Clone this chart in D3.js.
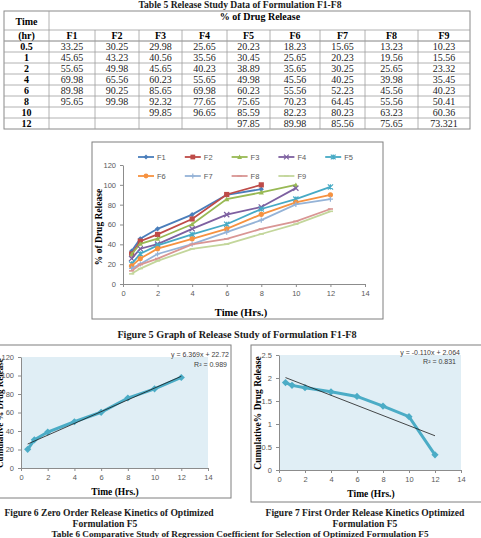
<!DOCTYPE html>
<html>
<head>
<meta charset="utf-8">
<script src="https://cdn.jsdelivr.net/npm/d3@7"></script>
<style>
  body { margin: 0; background: #fff; }
  svg { display: block; }
  .serif { font-family: 'Liberation Serif', 'DejaVu Serif', serif; }
  .tick text { font-family: 'Liberation Sans', Arial, sans-serif; font-size: 7.5px; fill: #595959; }
  .tick line, .domain { stroke: #8c8c8c; }
</style>
</head>
<body>
<svg id="page" width="481" height="538"></svg>
<script>
const times = [0.5, 1, 2, 4, 6, 8, 10, 12]
const formulations = ['F1', 'F2', 'F3', 'F4', 'F5', 'F6', 'F7', 'F8', 'F9']
const f1 = [33.25, 45.65, 55.65, 69.98, 89.98, 95.65, null, null]
const f2 = [30.25, 43.23, 49.98, 65.56, 90.25, 99.98, null, null]
const f3 = [29.98, 40.56, 45.65, 60.23, 85.65, 92.32, 99.85, null]
const f4 = [25.65, 35.56, 40.23, 55.65, 69.98, 77.65, 96.65, null]
const f5 = [20.23, 30.45, 38.89, 49.98, 60.23, 75.65, 85.59, 97.85]
const f6 = [18.23, 25.65, 35.65, 45.56, 55.56, 70.23, 82.23, 89.98]
const f7 = [15.65, 20.23, 30.25, 40.25, 52.23, 64.45, 80.23, 85.56]
const f8 = [13.23, 19.56, 25.65, 39.98, 45.56, 55.56, 63.23, 75.65]
const f9 = [10.23, 15.56, 23.32, 35.45, 40.23, 50.41, 60.36, 73.321]
const series = [f1, f2, f3, f4, f5, f6, f7, f8, f9]

// first order: log cumulative % drug remaining for F5
const logRemaining = [1.90, 1.84, 1.79, 1.70, 1.60, 1.39, 1.16, 0.33]
// trend lines as printed on the figures
const zeroFit = { slope: 6.369, intercept: 22.72, label: 'y = 6.369x + 22.72', r2: 'R² = 0.989' }
const firstFit = { slope: -0.110, intercept: 2.064, label: 'y = -0.110x + 2.064', r2: 'R² = 0.831' }

const xTicks = [0, 2, 4, 6, 8, 10, 12, 14]
const pctTicks = [0, 20, 40, 60, 80, 100, 120]
const logTicks = [0, 0.5, 1, 1.5, 2, 2.5]

const colors = ['#4a7ebb', '#be4b48', '#98b954', '#7d60a0', '#46aac5', '#f69240', '#95b3d7', '#d99694', '#c3d69b']
const markers = ['diamond', 'square', 'triangle', 'x', 'star', 'circle', 'plus', 'dash', 'dash']

const svg = d3.select('#page')
svg.append('rect').attr('width', 481).attr('height', 538).attr('fill', '#fff')

// ---------- captions ----------
function caption(txt, x, y, size) {
    svg.append('text').attr('class', 'serif')
        .attr('x', x).attr('y', y)
        .attr('text-anchor', 'middle')
        .style('font-size', size + 'px').style('font-weight', 'bold')
        .style('fill', '#1a1a1a')
        .text(txt)
}
caption('Table 5 Release Study Data of Formulation F1-F8', 240, 8, 9.6)
caption('Figure 5 Graph of Release Study of Formulation F1-F8', 237, 338, 10.2)
caption('Figure 6 Zero Order Release Kinetics of Optimized', 109, 516, 9.6)
caption('Formulation F5', 105, 527, 9.6)
caption('Figure 7 First Order Release Kinetics Optimized', 365, 516, 9.6)
caption('Formulation F5', 365, 527, 9.6)
caption('Table 6 Comparative Study of Regression Coefficient for Selection of Optimized Formulation F5', 240, 536.5, 9.2)

// ---------- table ----------
const colEdges = [4, 49, 95, 139, 182, 227, 270, 320, 365, 418, 470]
const tableTop = 11, headLine = 30, subLine = 41, rowH = 11
const tableBottom = subLine + rowH * times.length
const table = svg.append('g').attr('class', 'serif')

table.append('rect')
    .attr('x', colEdges[0]).attr('y', tableTop)
    .attr('width', colEdges[10] - colEdges[0]).attr('height', tableBottom - tableTop)
    .attr('fill', 'none').attr('stroke', '#8a8a8a').attr('stroke-width', 1)
const hLines = [headLine, subLine].concat(times.map((t, i) => subLine + rowH * i))
table.selectAll('.hl').data(hLines).join('line')
    .attr('x1', colEdges[0]).attr('x2', colEdges[10])
    .attr('y1', d => d).attr('y2', d => d)
    .attr('stroke', '#a0a0a0').attr('stroke-width', 0.8)
table.selectAll('.vl').data(colEdges.slice(1, -1)).join('line')
    .attr('x1', d => d).attr('x2', d => d)
    .attr('y1', (d, i) => i == 0 ? tableTop : headLine).attr('y2', tableBottom)
    .attr('stroke', '#a0a0a0').attr('stroke-width', 0.8)

const colMid = i => (colEdges[i] + colEdges[i + 1]) / 2
table.append('text').attr('x', colMid(0)).attr('y', 24.5).attr('text-anchor', 'middle')
    .style('font-size', '10px').style('font-weight', 'bold').text('Time')
table.append('text').attr('x', 260).attr('y', 19.5).attr('text-anchor', 'middle')
    .style('font-size', '10px').style('font-weight', 'bold').text('% of Drug Release')
table.append('text').attr('x', colMid(0)).attr('y', 39).attr('text-anchor', 'middle')
    .style('font-size', '10px').style('font-weight', 'bold').text('(hr)')
table.selectAll('.fh').data(formulations).join('text')
    .attr('x', (d, i) => colMid(i + 1)).attr('y', 39).attr('text-anchor', 'middle')
    .style('font-size', '10px').style('font-weight', 'bold').text(d => d)
times.forEach((t, r) => {
    const y = subLine + rowH * r + 8.5
    table.append('text').attr('x', colMid(0)).attr('y', y).attr('text-anchor', 'middle')
        .style('font-size', '10px').style('font-weight', 'bold').text(t)
    series.forEach((s, c) => {
        if (s[r] == null) return
        table.append('text').attr('x', colMid(c + 1)).attr('y', y).attr('text-anchor', 'middle')
            .style('font-size', '10px').style('fill', '#222').text(s[r])
    })
})

// ---------- marker helper ----------
function marker(g, type, color, size) {
    const s = size
    if (type == 'diamond') g.append('path').attr('d', `M0,${-s}L${s},0L0,${s}L${-s},0Z`).attr('fill', color)
    else if (type == 'square') g.append('rect').attr('x', -s).attr('y', -s).attr('width', 2 * s).attr('height', 2 * s).attr('fill', color)
    else if (type == 'triangle') g.append('path').attr('d', `M0,${-s}L${s},${s * 0.8}L${-s},${s * 0.8}Z`).attr('fill', color)
    else if (type == 'circle') g.append('circle').attr('r', s).attr('fill', color)
    else if (type == 'x') g.append('path').attr('d', `M${-s},${-s}L${s},${s}M${-s},${s}L${s},${-s}`).attr('stroke', color).attr('stroke-width', 1.2)
    else if (type == 'star') g.append('path').attr('d', `M${-s},${-s}L${s},${s}M${-s},${s}L${s},${-s}M0,${-s}L0,${s}`).attr('stroke', color).attr('stroke-width', 1.2)
    else if (type == 'plus') g.append('path').attr('d', `M${-s},0L${s},0M0,${-s}L0,${s}`).attr('stroke', color).attr('stroke-width', 1.2)
    else if (type == 'dash') g.append('path').attr('d', `M${-s},0L${s},0`).attr('stroke', color).attr('stroke-width', 1.6)
}

function drawAxes(g, x, y, yTicks, yFmt) {
    g.append('g').attr('transform', `translate(0,${y.range()[0]})`)
        .call(d3.axisBottom(x).tickValues(xTicks).tickSize(3).tickSizeOuter(0).tickPadding(4))
    g.append('g').attr('transform', `translate(${x.range()[0]},0)`)
        .call(d3.axisLeft(y).tickValues(yTicks).tickFormat(yFmt).tickSize(3).tickSizeOuter(0).tickPadding(4))
}

// ---------- figure 5 ----------
const fig5 = svg.append('g')
fig5.append('rect').attr('x', 92).attr('y', 142).attr('width', 291).attr('height', 177)
    .attr('fill', '#fff').attr('stroke', '#7f7f7f').attr('stroke-width', 1)
const x5 = d3.scaleLinear().domain([0, 14]).range([123, 365])
const y5 = d3.scaleLinear().domain([0, 120]).range([284, 165])
drawAxes(fig5, x5, y5, pctTicks, d3.format('d'))

const line5 = d3.line().defined(d => d[1] != null).x(d => x5(d[0])).y(d => y5(d[1]))
series.forEach((s, i) => {
    const pts = times.map((t, j) => [t, s[j]]).filter(d => d[1] != null)
    fig5.append('path').datum(pts).attr('d', line5)
        .attr('fill', 'none').attr('stroke', colors[i]).attr('stroke-width', 1.8)
    pts.forEach(p => {
        const m = fig5.append('g').attr('transform', `translate(${x5(p[0])},${y5(p[1])})`)
        marker(m, markers[i], colors[i], 2.6)
    })
})

// legend
formulations.forEach((f, i) => {
    const col = i < 5 ? i : i - 5
    const lx = 138 + col * 46.8
    const ly = i < 5 ? 157 : 176
    const lg = fig5.append('g')
    lg.append('line').attr('x1', lx).attr('x2', lx + 16).attr('y1', ly).attr('y2', ly)
        .attr('stroke', colors[i]).attr('stroke-width', 1.8)
    marker(lg.append('g').attr('transform', `translate(${lx + 8},${ly})`), markers[i], colors[i], 2.4)
    lg.append('text').attr('x', lx + 19).attr('y', ly + 2.5)
        .style('font-family', "'Liberation Sans', Arial, sans-serif").style('font-size', '7.5px').style('fill', '#595959')
        .text(f)
})
fig5.append('text').attr('class', 'serif')
    .attr('transform', `translate(102,227) rotate(-90)`).attr('text-anchor', 'middle')
    .style('font-size', '9.5px').style('font-weight', 'bold').text('% of Drug Release')
fig5.append('text').attr('class', 'serif')
    .attr('x', 241).attr('y', 316).attr('text-anchor', 'middle')
    .style('font-size', '10.5px').style('font-weight', 'bold').text('Time (Hrs.)')

// ---------- figure 6: zero order ----------
const fig6 = svg.append('g')
fig6.append('rect').attr('x', -5).attr('y', 345).attr('width', 236).attr('height', 153)
    .attr('fill', '#fff').attr('stroke', '#7f7f7f').attr('stroke-width', 1)
const x6 = d3.scaleLinear().domain([0, 14]).range([21, 208])
const y6 = d3.scaleLinear().domain([0, 120]).range([468, 357])
fig6.append('rect').attr('x', x6(0)).attr('y', y6(120)).attr('width', x6(14) - x6(0)).attr('height', y6(0) - y6(120))
    .attr('fill', '#e0eef5')
drawAxes(fig6, x6, y6, pctTicks, d3.format('d'))
const pts6 = times.map((t, j) => [t, f5[j]])
fig6.append('path').datum(pts6).attr('d', d3.line().x(d => x6(d[0])).y(d => y6(d[1])))
    .attr('fill', 'none').attr('stroke', '#4bacc6').attr('stroke-width', 3)
pts6.forEach(p => marker(fig6.append('g').attr('transform', `translate(${x6(p[0])},${y6(p[1])})`), 'diamond', '#4bacc6', 3.6))
fig6.append('line')
    .attr('x1', x6(0.5)).attr('y1', y6(zeroFit.slope * 0.5 + zeroFit.intercept))
    .attr('x2', x6(12)).attr('y2', y6(zeroFit.slope * 12 + zeroFit.intercept))
    .attr('stroke', '#1a1a1a').attr('stroke-width', 0.8)
fig6.append('text').attr('x', 229).attr('y', 357).attr('text-anchor', 'end')
    .style('font-family', "'Liberation Sans', Arial, sans-serif").style('font-size', '7px').style('fill', '#404040')
    .text(zeroFit.label)
fig6.append('text').attr('x', 227).attr('y', 367).attr('text-anchor', 'end')
    .style('font-family', "'Liberation Sans', Arial, sans-serif").style('font-size', '7px').style('fill', '#404040')
    .text(zeroFit.r2)
fig6.append('text').attr('class', 'serif')
    .attr('transform', `translate(2.5,413) rotate(-90)`).attr('text-anchor', 'middle')
    .style('font-size', '9px').style('font-weight', 'bold').text('Cumulative % Drug Release')
fig6.append('text').attr('class', 'serif')
    .attr('x', 115).attr('y', 495).attr('text-anchor', 'middle')
    .style('font-size', '9.5px').style('font-weight', 'bold').text('Time (Hrs.)')

// ---------- figure 7: first order ----------
const fig7 = svg.append('g')
fig7.append('rect').attr('x', 251).attr('y', 345).attr('width', 235).attr('height', 157)
    .attr('fill', '#fff').attr('stroke', '#7f7f7f').attr('stroke-width', 1)
const x7 = d3.scaleLinear().domain([0, 14]).range([279, 461])
const y7 = d3.scaleLinear().domain([0, 2.5]).range([470, 355])
fig7.append('rect').attr('x', x7(0)).attr('y', y7(2.5)).attr('width', x7(14) - x7(0)).attr('height', y7(0) - y7(2.5))
    .attr('fill', '#e0eef5')
drawAxes(fig7, x7, y7, logTicks, d => d)
const pts7 = times.map((t, j) => [t, logRemaining[j]])
fig7.append('path').datum(pts7).attr('d', d3.line().x(d => x7(d[0])).y(d => y7(d[1])))
    .attr('fill', 'none').attr('stroke', '#4bacc6').attr('stroke-width', 3)
pts7.forEach(p => marker(fig7.append('g').attr('transform', `translate(${x7(p[0])},${y7(p[1])})`), 'diamond', '#4bacc6', 3.6))
fig7.append('line')
    .attr('x1', x7(0.5)).attr('y1', y7(firstFit.slope * 0.5 + firstFit.intercept))
    .attr('x2', x7(12)).attr('y2', y7(firstFit.slope * 12 + firstFit.intercept))
    .attr('stroke', '#1a1a1a').attr('stroke-width', 0.8)
fig7.append('text').attr('x', 460).attr('y', 355).attr('text-anchor', 'end')
    .style('font-family', "'Liberation Sans', Arial, sans-serif").style('font-size', '7px').style('fill', '#404040')
    .text(firstFit.label)
fig7.append('text').attr('x', 456).attr('y', 364).attr('text-anchor', 'end')
    .style('font-family', "'Liberation Sans', Arial, sans-serif").style('font-size', '7px').style('fill', '#404040')
    .text(firstFit.r2)
fig7.append('text').attr('class', 'serif')
    .attr('transform', `translate(261,413) rotate(-90)`).attr('text-anchor', 'middle')
    .style('font-size', '9.5px').style('font-weight', 'bold').text('Cumulative% Drug Release')
fig7.append('text').attr('class', 'serif')
    .attr('x', 371).attr('y', 497).attr('text-anchor', 'middle')
    .style('font-size', '9.5px').style('font-weight', 'bold').text('Time (Hrs.)')
</script>
</body>
</html>
